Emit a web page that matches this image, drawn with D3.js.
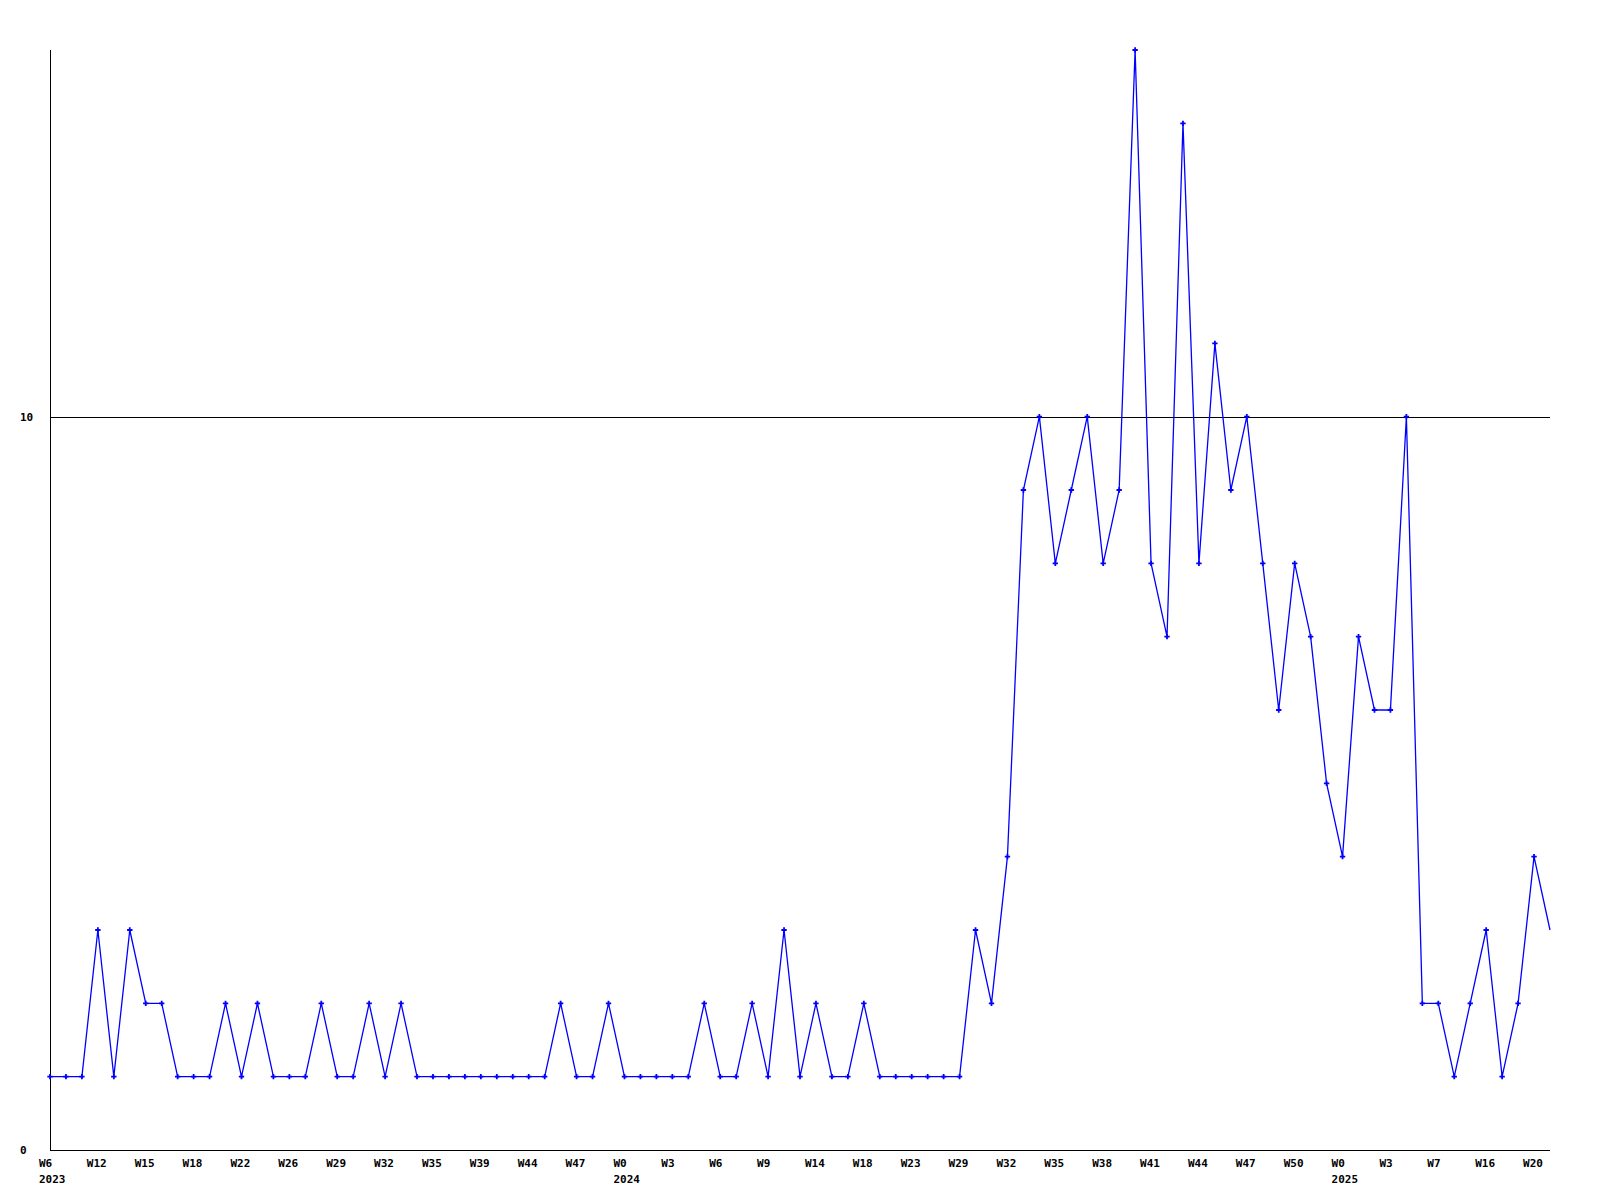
<!DOCTYPE html>
<html>
<head>
<meta charset="utf-8">
<script src="https://cdn.jsdelivr.net/npm/d3@7"></script>
<style>
  html, body { margin: 0; padding: 0; background: #fff; }
  svg { display: block; }
  text { font-family: "DejaVu Sans Mono", "Liberation Mono", monospace; font-weight: bold; font-size: 11px; fill: #000; }
</style>
</head>
<body>
<script>
// ---- data ----
const values = [
  1,1,1,3,1,3,2,2,1,1,1,2,1,2,1,1,1,2,1,1,2,
  1,2,1,1,1,1,1,1,1,1,1,2,1,1,2,1,1,1,1,1,
  2,1,1,2,1,3,1,2,1,1,2,1,1,1,1,1,1,3,2,
  4,9,10,8,9,10,8,9,15,8,7,14,8,11,9,10,8,6,8,7,5,4,7,6,6,10,2,2,1,2,3,1,2,4,3
];
const weekLabels = [
  "W6","W12","W15","W18","W22","W26","W29","W32","W35","W39","W44",
  "W47","W0","W3","W6","W9","W14","W18","W23","W29","W32","W35",
  "W38","W41","W44","W47","W50","W0","W3","W7","W16","W20"
];
const labelStep = 3;
const yearLabels = [
  { labelIndex: 0, text: "2023" },
  { labelIndex: 12, text: "2024" },
  { labelIndex: 27, text: "2025" }
];
const yTicks = [0, 10];
const yMax = 15;

// ---- layout ----
const W = 1600, H = 1200;
const mLeft = 50, mRight = 1550, mTop = 50, mBottom = 1150;

const svg = d3.select("body").append("svg").attr("width", W).attr("height", H);

const x = d3.scaleLinear().domain([0, values.length - 1]).range([mLeft, mRight]);
const y = d3.scaleLinear().domain([0, yMax]).range([mBottom, mTop]);

// gridline at 10 and axes
const gAxes = svg.append("g").attr("shape-rendering", "crispEdges");
yTicks.filter(t => t > 0).forEach(t => {
  gAxes.append("line")
    .attr("x1", mLeft).attr("x2", mRight)
    .attr("y1", Math.round(y(t)) + 0.5).attr("y2", Math.round(y(t)) + 0.5)
    .attr("stroke", "#000").attr("stroke-width", 1);
});
gAxes.append("line")
  .attr("x1", mLeft + 0.5).attr("x2", mLeft + 0.5)
  .attr("y1", mTop).attr("y2", mBottom + 1)
  .attr("stroke", "#000");
gAxes.append("line")
  .attr("x1", mLeft).attr("x2", mRight)
  .attr("y1", mBottom + 0.5).attr("y2", mBottom + 0.5)
  .attr("stroke", "#000");

// y tick labels (left aligned)
svg.append("g").selectAll("text").data(yTicks).join("text")
  .attr("x", 20)
  .attr("y", d => y(d) + 4)
  .text(d => d);

// x tick labels
svg.append("g").selectAll("text").data(weekLabels).join("text")
  .attr("x", (d, i) => x(i * labelStep) - 11)
  .attr("y", 1167)
  .text(d => d);

svg.append("g").selectAll("text").data(yearLabels).join("text")
  .attr("x", d => x(d.labelIndex * labelStep) - 11)
  .attr("y", 1183)
  .text(d => d.text);

// line
const line = d3.line().x((d, i) => x(i)).y(d => y(d));
svg.append("path")
  .datum(values)
  .attr("d", line)
  .attr("fill", "none")
  .attr("stroke", "#0000ff")
  .attr("stroke-width", 1.3);

// markers (the last point sits on the frame edge and has no marker)
const sym = d3.symbol().type(d3.symbolCross).size(16);
svg.append("g").selectAll("path").data(values.slice(0, values.length - 1)).join("path")
  .attr("transform", (d, i) => `translate(${x(i)},${y(d)})`)
  .attr("d", sym)
  .attr("fill", "#0000ff");
</script>
</body>
</html>
